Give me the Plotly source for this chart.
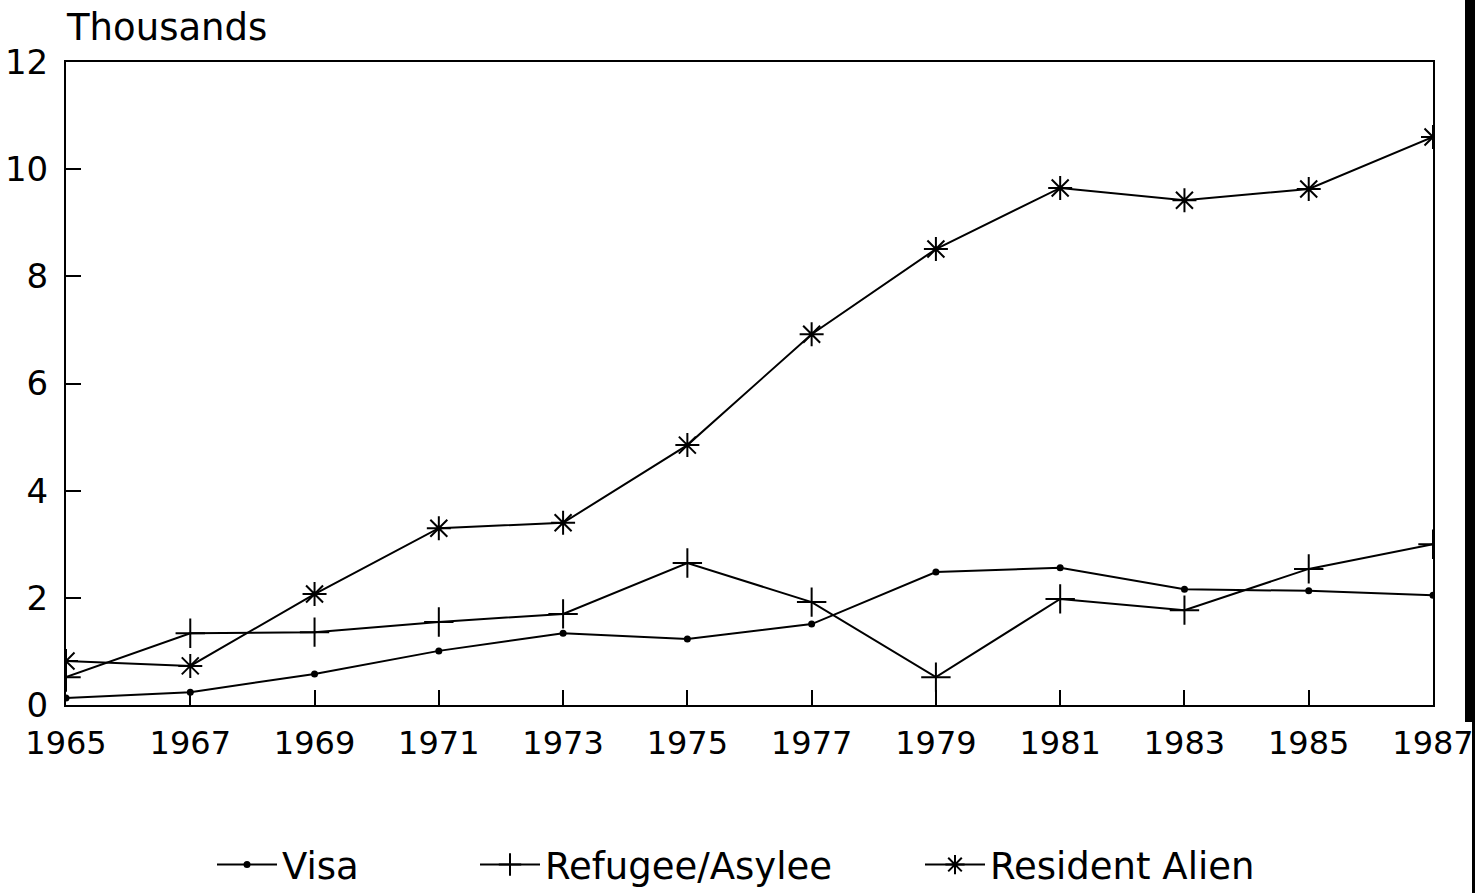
import plotly.graph_objects as go

years = [1965, 1967, 1969, 1971, 1973, 1975, 1977, 1979, 1981, 1983, 1985, 1987]
visa = [0.13, 0.24, 0.58, 1.01, 1.34, 1.23, 1.51, 2.48, 2.56, 2.16, 2.13, 2.05]
refugee = [0.52, 1.34, 1.36, 1.55, 1.70, 2.65, 1.92, 0.52, 1.98, 1.77, 2.54, 3.00]
resident = [0.82, 0.73, 2.07, 3.30, 3.40, 4.85, 6.92, 8.51, 9.65, 9.42, 9.63, 10.60]
y_ticks = [0, 2, 4, 6, 8, 10, 12]
x_ticks = years

FONT = "DejaVu Sans"
L, R, T, B = 66, 42, 62, 188
PW = 1475 - L - R
PH = 893 - T - B


def px_x(p):
    return (p - L) / PW


def px_y(p):
    return (893 - B - p) / PH


fig = go.Figure()
fig.add_trace(go.Scatter(
    x=years, y=visa, name="Visa", mode="lines+markers", legend="legend",
    line=dict(color="black", width=2),
    marker=dict(symbol="circle", size=7, color="black"),
))
fig.add_trace(go.Scatter(
    x=years, y=refugee, name="Refugee/Asylee", mode="lines+markers", legend="legend2",
    line=dict(color="black", width=2),
    marker=dict(symbol="cross-thin", size=21, color="black",
                line=dict(color="black", width=2)),
))
fig.add_trace(go.Scatter(
    x=years, y=resident, name="Resident Alien", mode="lines+markers", legend="legend3",
    line=dict(color="black", width=2),
    marker=dict(symbol="asterisk", size=20, color="black",
                line=dict(color="black", width=2)),
))

leg_common = dict(
    orientation="h", yanchor="middle", y=px_y(865), xanchor="left",
    font=dict(family=FONT, size=37, color="black"),
    itemwidth=60, bgcolor="rgba(0,0,0,0)", borderwidth=0,
)

fig.update_layout(
    width=1475, height=893,
    paper_bgcolor="white", plot_bgcolor="white",
    margin=dict(l=L, r=R, t=T, b=B, autoexpand=False),
    font=dict(family=FONT, color="black", size=34),
    showlegend=True,
    legend=dict(leg_common, x=px_x(212)),
    legend2=dict(leg_common, x=px_x(475)),
    legend3=dict(leg_common, x=px_x(920)),
    xaxis=dict(
        range=[1965, 1987], tickmode="array", tickvals=x_ticks,
        ticktext=[str(v) for v in x_ticks],
        ticks="inside", ticklen=15, tickwidth=2, tickcolor="black",
        showline=True, linecolor="black", linewidth=2, mirror=True,
        showgrid=False, zeroline=False, ticklabelstandoff=9,
        ticklabeloverflow="allow",
        tickfont=dict(family=FONT, size=32, color="black"),
    ),
    yaxis=dict(
        range=[0, 12], tickmode="array", tickvals=y_ticks,
        ticks="inside", ticklen=15, tickwidth=2, tickcolor="black",
        showline=True, linecolor="black", linewidth=2, mirror=True,
        showgrid=False, zeroline=False, ticklabelstandoff=9,
        ticklabeloverflow="allow",
        tickfont=dict(family=FONT, size=34, color="black"),
    ),
    annotations=[dict(
        text="Thousands", xref="paper", yref="paper", x=0.0, y=1.0,
        xanchor="left", yanchor="bottom", yshift=11, xshift=-2, showarrow=False,
        font=dict(family=FONT, size=37, color="black"),
    )],
    shapes=[
        dict(type="rect", xref="paper", yref="paper",
             x0=px_x(1465), x1=px_x(1476), y0=px_y(722), y1=px_y(-5),
             fillcolor="black", line=dict(width=0), layer="below"),
        dict(type="rect", xref="paper", yref="paper",
             x0=px_x(1472), x1=px_x(1476), y0=px_y(895), y1=px_y(718),
             fillcolor="black", line=dict(width=0), layer="below"),
    ],
)

fig.write_html("out.html", config={"displayModeBar": False},
               post_script="document.body.style.margin='0';")
